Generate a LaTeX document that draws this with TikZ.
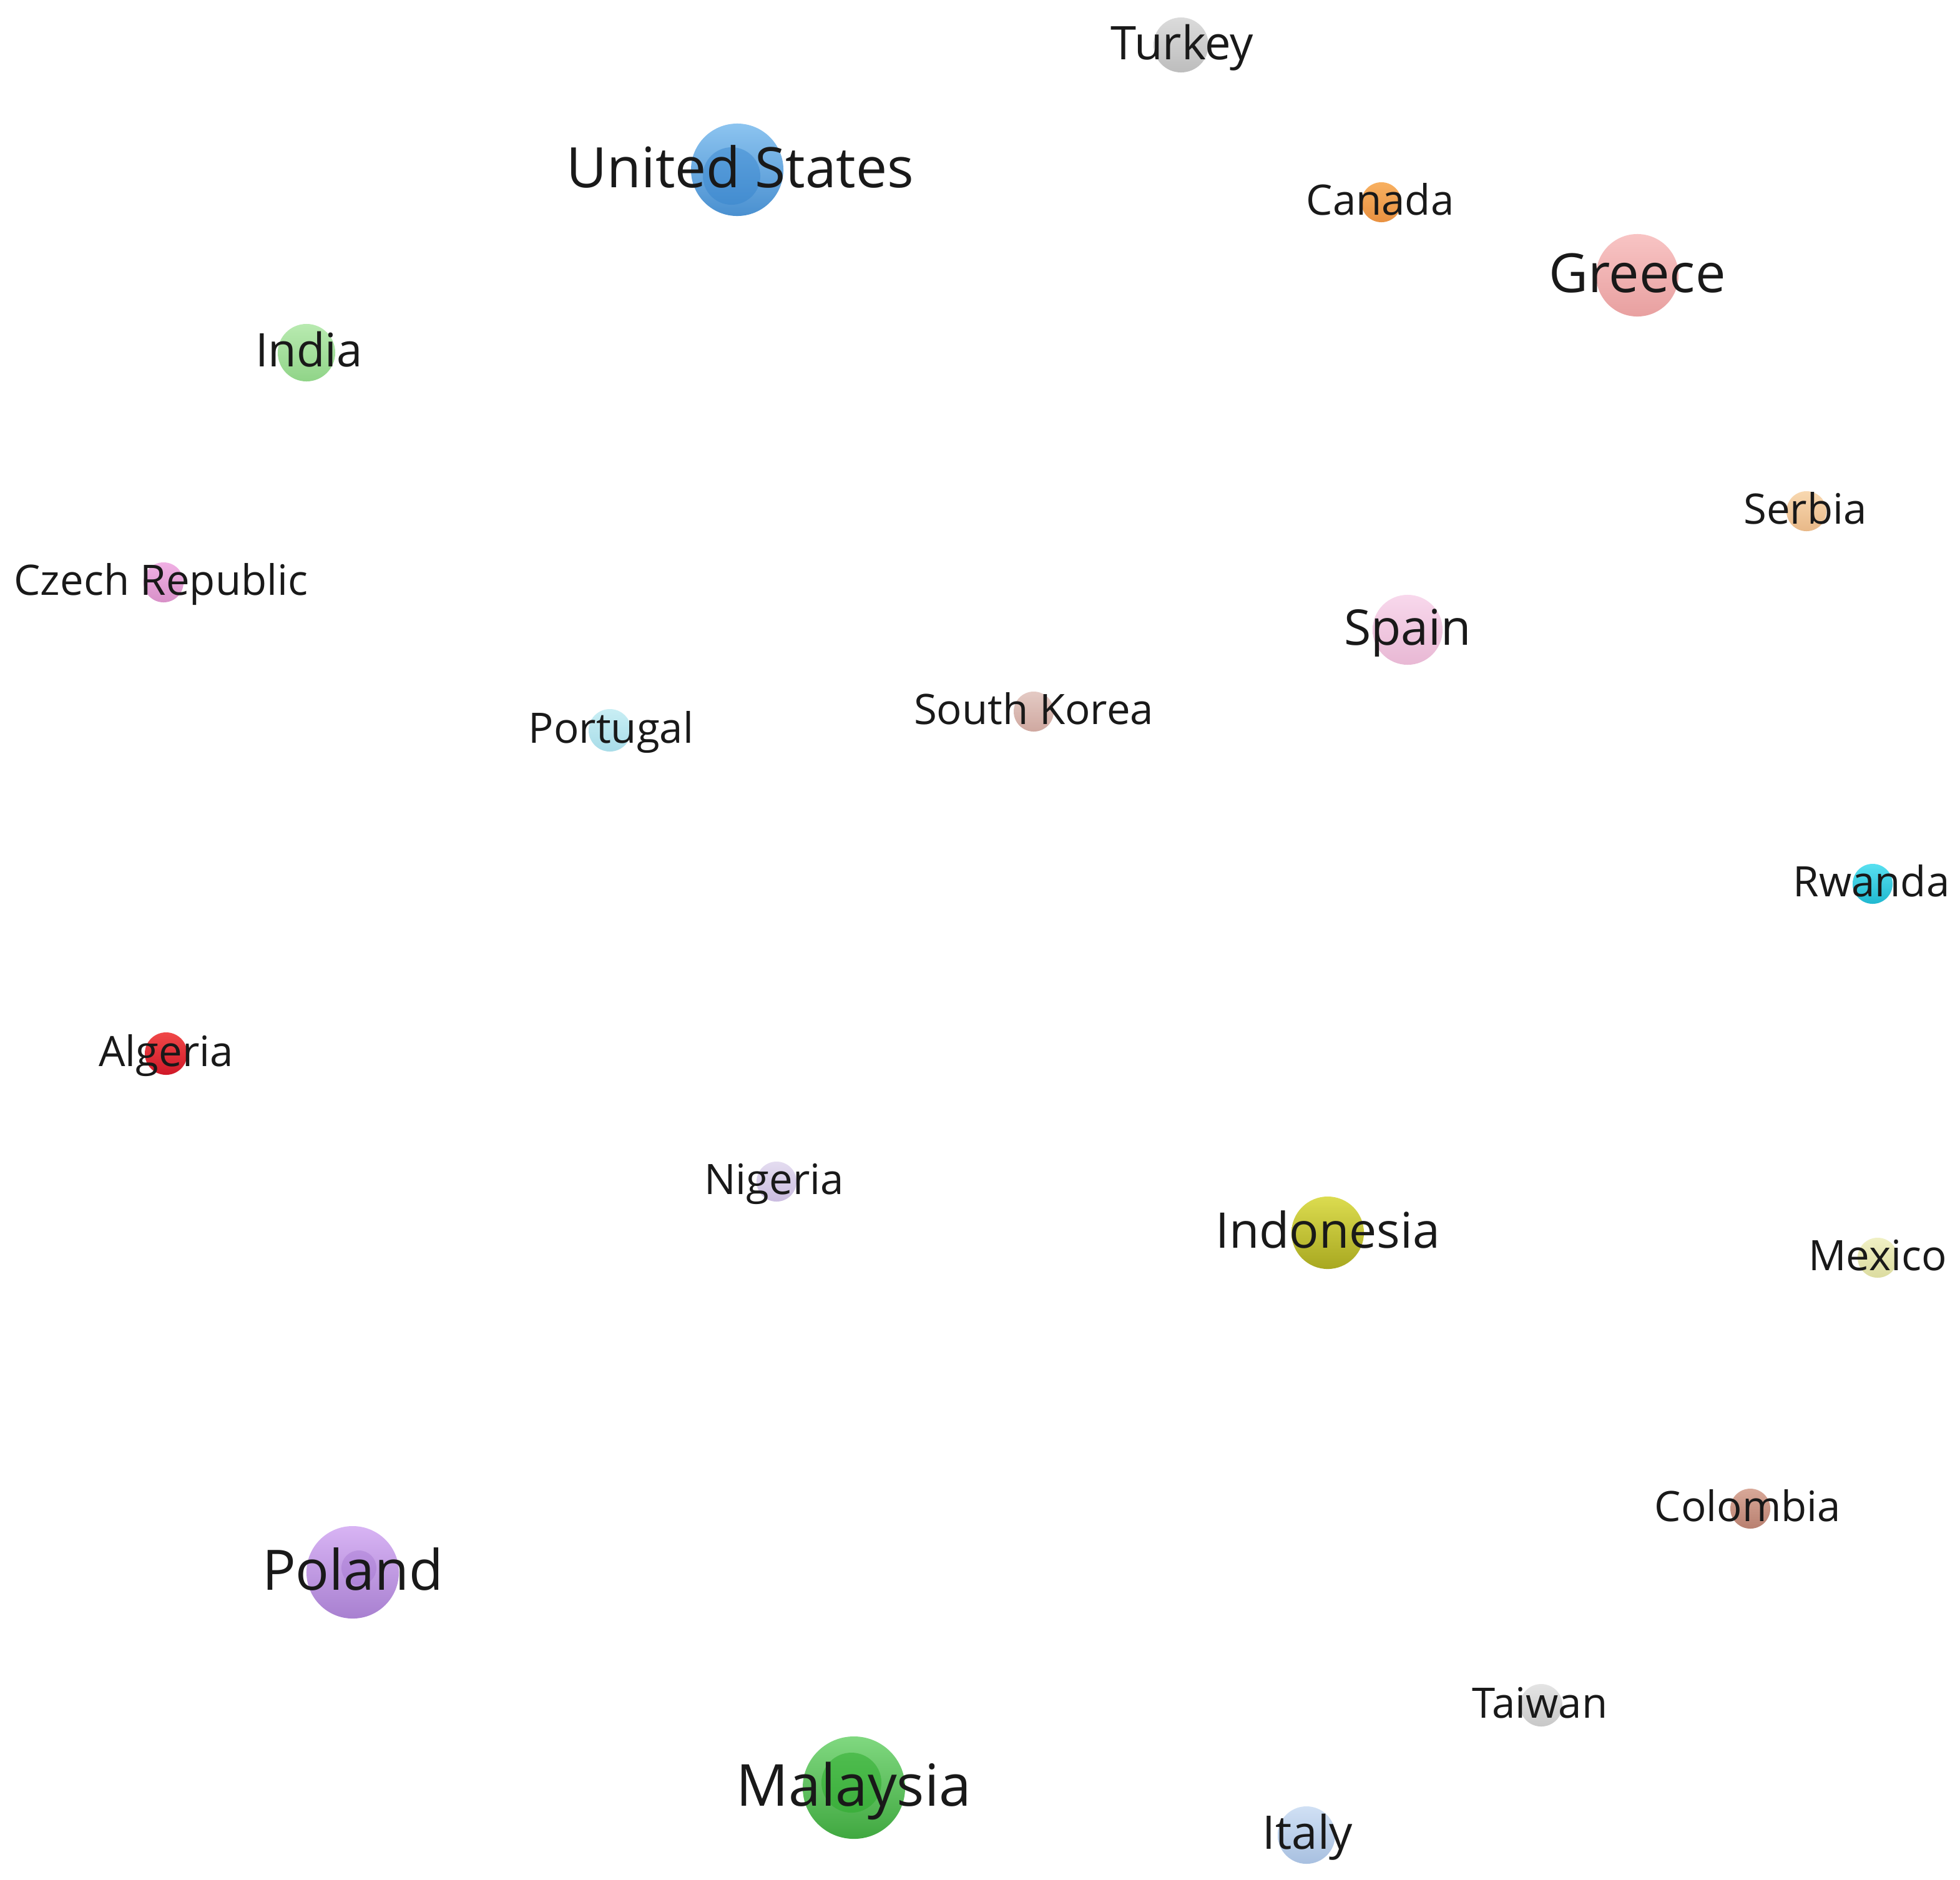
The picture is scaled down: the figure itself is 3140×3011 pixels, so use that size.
\documentclass[tikz,border=0pt]{standalone}
\usepackage{fontspec}
\setmainfont{Open Sans}
\begin{document}
\begin{tikzpicture}[x=0.01cm,y=-0.01cm,
  dot/.style={circle,inner sep=0pt,draw=none},
  lab/.style={inner sep=0pt,anchor=base,text=black!90,yshift=0.04cm},
  fS/.style={font=\fontsize{19.1pt}{20pt}\selectfont},
  fM/.style={font=\fontsize{21.1pt}{22pt}\selectfont},
  fL/.style={font=\fontsize{22.4pt}{23pt}\selectfont},
  fG/.style={font=\fontsize{24.6pt}{25pt}\selectfont},
  fX/.style={font=\fontsize{25.4pt}{26pt}\selectfont},
  fXX/.style={font=\fontsize{26.4pt}{27pt}\selectfont}]
\fill[white] (0,0) rectangle (3140,3011);
\path[use as bounding box] (0,0) rectangle (3140,3011);
% circles
\node[dot,minimum size=0.88cm,top color={rgb,255:red,219;green,219;blue,219},bottom color={rgb,255:red,189;green,189;blue,189}] (cTurkey) at (1892,72) {};
\node[dot,minimum size=1.48cm,top color={rgb,255:red,140;green,196;blue,240},bottom color={rgb,255:red,74;green,144;blue,208}] (cUS) at (1181,272) {};
\node[dot,minimum size=0.92cm,fill={rgb,255:red,50;green,130;blue,205},fill opacity=0.45] (iUS) at (1172,282) {};
\node[dot,minimum size=0.64cm,top color={rgb,255:red,248;green,176;blue,96},bottom color={rgb,255:red,232;green,144;blue,64}] (cCanada) at (2213,324) {};
\node[dot,minimum size=1.32cm,top color={rgb,255:red,248;green,196;blue,196},bottom color={rgb,255:red,232;green,160;blue,160}] (cGreece) at (2623,441) {};
\node[dot,minimum size=0.92cm,top color={rgb,255:red,184;green,234;blue,176},bottom color={rgb,255:red,144;green,212;blue,136}] (cIndia) at (491,565) {};
\node[dot,minimum size=0.64cm,top color={rgb,255:red,248;green,216;blue,176},bottom color={rgb,255:red,232;green,184;blue,136}] (cSerbia) at (2894,819) {};
\node[dot,minimum size=0.64cm,top color={rgb,255:red,240;green,176;blue,228},bottom color={rgb,255:red,216;green,144;blue,200}] (cCzech) at (262,933) {};
\node[dot,minimum size=1.12cm,top color={rgb,255:red,248;green,216;blue,236},bottom color={rgb,255:red,232;green,184;blue,212}] (cSpain) at (2255,1009) {};
\node[dot,minimum size=0.68cm,top color={rgb,255:red,200;green,238;blue,244},bottom color={rgb,255:red,168;green,220;blue,232}] (cPortugal) at (977,1170) {};
\node[dot,minimum size=0.64cm,top color={rgb,255:red,228;green,202;blue,196},bottom color={rgb,255:red,207;green,168;blue,160}] (cKorea) at (1656,1140) {};
\node[dot,minimum size=0.64cm,top color={rgb,255:red,88;green,224;blue,240},bottom color={rgb,255:red,32;green,184;blue,208}] (cRwanda) at (3000,1416) {};
\node[dot,minimum size=0.68cm,top color={rgb,255:red,240;green,72;blue,72},bottom color={rgb,255:red,208;green,24;blue,40}] (cAlgeria) at (266,1688) {};
\node[dot,minimum size=0.64cm,top color={rgb,255:red,228;green,220;blue,240},bottom color={rgb,255:red,203;green,188;blue,224}] (cNigeria) at (1244,1893) {};
\node[dot,minimum size=1.16cm,top color={rgb,255:red,220;green,220;blue,80},bottom color={rgb,255:red,168;green,168;blue,32}] (cIndonesia) at (2127,1975) {};
\node[dot,minimum size=0.64cm,top color={rgb,255:red,240;green,240;blue,196},bottom color={rgb,255:red,220;green,220;blue,160}] (cMexico) at (3008,2015) {};
\node[dot,minimum size=0.64cm,top color={rgb,255:red,216;green,168;blue,152},bottom color={rgb,255:red,184;green,128;blue,112}] (cColombia) at (2804,2417) {};
\node[dot,minimum size=1.48cm,top color={rgb,255:red,216;green,180;blue,244},bottom color={rgb,255:red,168;green,128;blue,208}] (cPoland) at (565,2519) {};
\node[dot,minimum size=0.56cm,fill={rgb,255:red,150;green,100;blue,200},fill opacity=0.3] (iPoland) at (575,2512) {};
\node[dot,minimum size=0.68cm,top color={rgb,255:red,228;green,228;blue,228},bottom color={rgb,255:red,200;green,200;blue,200}] (cTaiwan) at (2469,2732) {};
\node[dot,minimum size=1.64cm,top color={rgb,255:red,128;green,216;blue,128},bottom color={rgb,255:red,64;green,168;blue,64}] (cMalaysia) at (1368,2864) {};
\node[dot,minimum size=0.96cm,fill={rgb,255:red,40;green,170;blue,40},fill opacity=0.5] (iMalaysia) at (1364,2856) {};
\node[dot,minimum size=0.92cm,top color={rgb,255:red,208;green,224;blue,244},bottom color={rgb,255:red,168;green,192;blue,224}] (cItaly) at (2093,2940) {};
% labels
\node[lab,fM] (lTurkey) at (1894,99) {Turkey};
\node[lab,fX] (lUS) at (1186,304) {United States};
\node[lab,fS] (lCanada) at (2211,348) {Canada};
\node[lab,fG] (lGreece) at (2623,472) {Greece};
\node[lab,fM] (lIndia) at (495,591) {India};
\node[lab,fS] (lSerbia) at (2892,843) {Serbia};
\node[lab,fS] (lCzech) at (258,957) {Czech Republic};
\node[lab,fL] (lSpain) at (2255,1037) {Spain};
\node[lab,fS] (lPortugal) at (979,1194) {Portugal};
\node[lab,fS] (lKorea) at (1656,1164) {South Korea};
\node[lab,fS] (lRwanda) at (2998,1440) {Rwanda};
\node[lab,fS] (lAlgeria) at (266,1712) {Algeria};
\node[lab,fS] (lNigeria) at (1240,1917) {Nigeria};
\node[lab,fL] (lIndonesia) at (2127,2003) {Indonesia};
\node[lab,fS] (lMexico) at (3008,2039) {Mexico};
\node[lab,fS] (lColombia) at (2800,2441) {Colombia};
\node[lab,fX] (lPoland) at (565,2551) {Poland};
\node[lab,fS] (lTaiwan) at (2467,2756) {Taiwan};
\node[lab,fXX] (lMalaysia) at (1368,2897) {Malaysia};
\node[lab,fM] (lItaly) at (2095,2966) {Italy};
\end{tikzpicture}
\end{document}
